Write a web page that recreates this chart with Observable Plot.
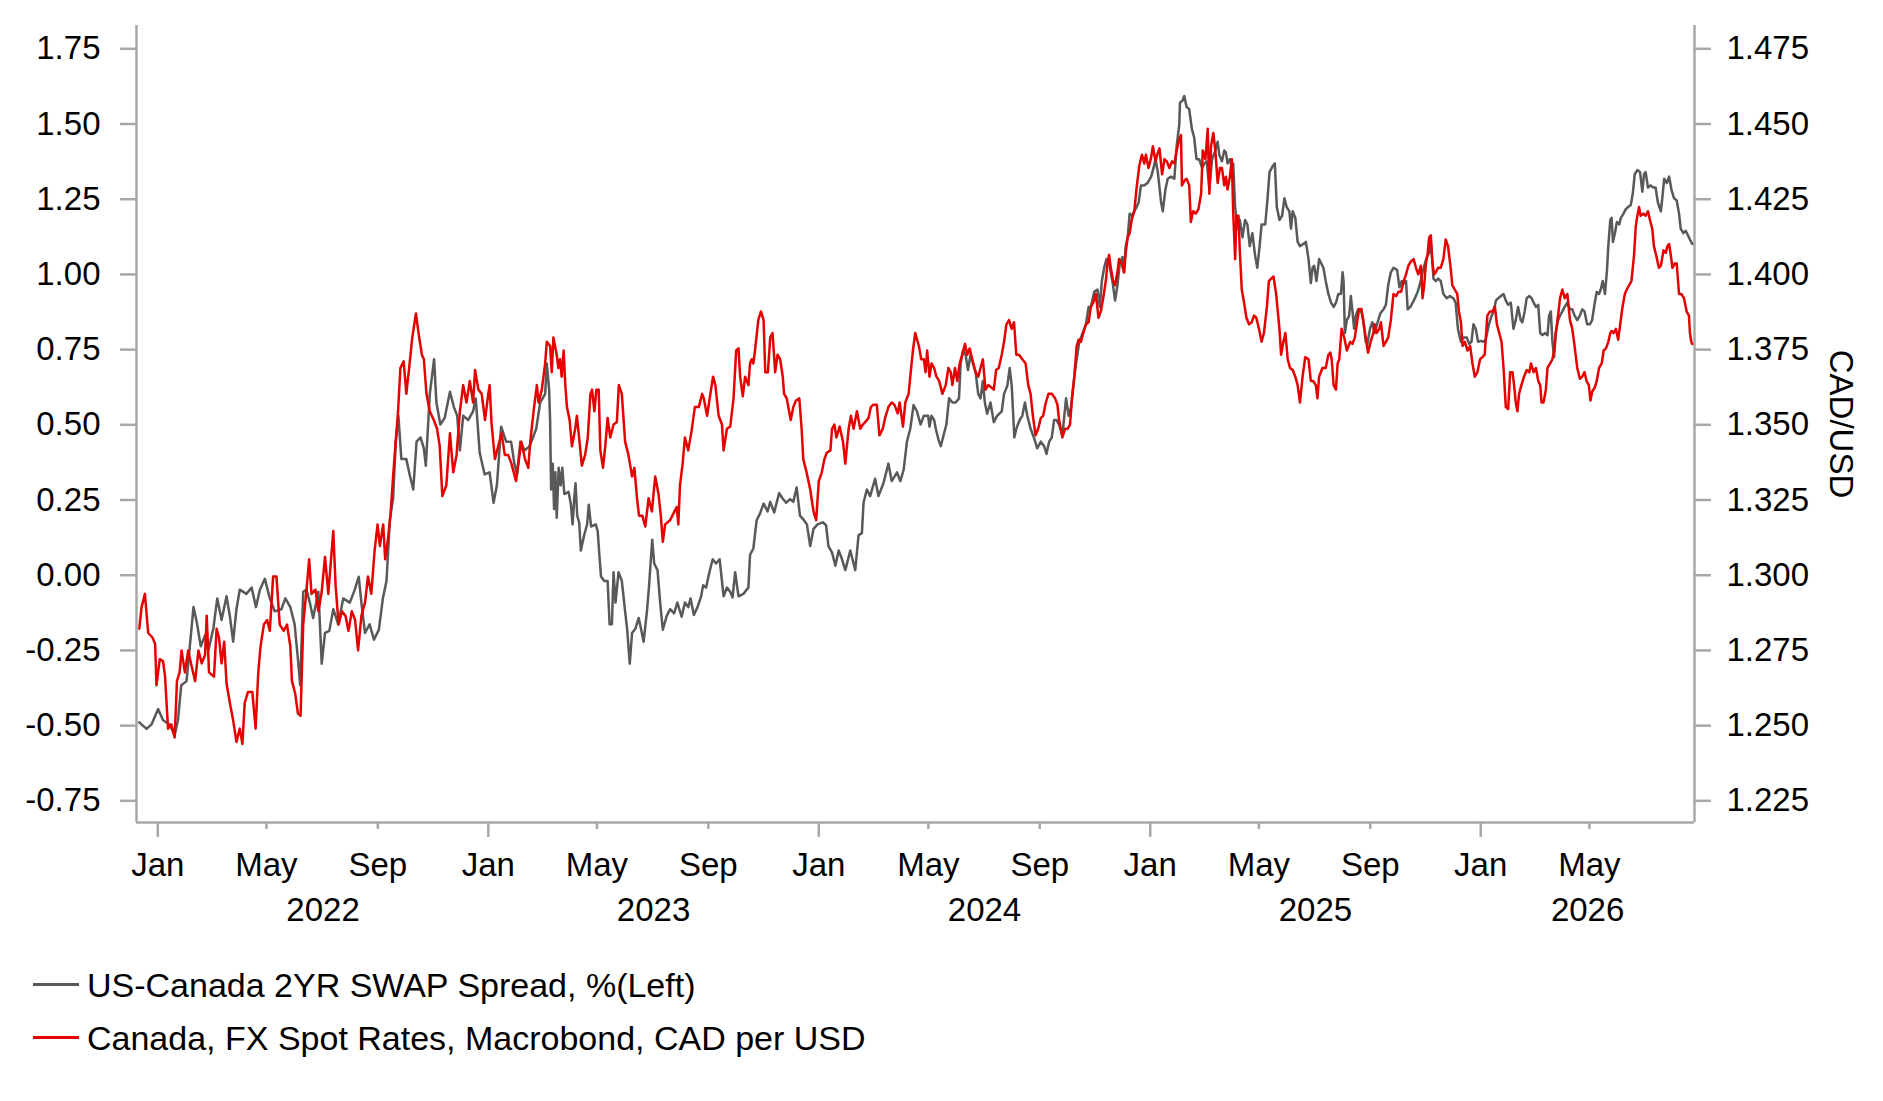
<!DOCTYPE html>
<html><head><meta charset="utf-8">
<script src="https://cdn.jsdelivr.net/npm/d3@7"></script>
<script src="https://cdn.jsdelivr.net/npm/@observablehq/plot@0.6"></script>
<style>
html,body{margin:0;padding:0;background:#fff;}
#wrap{position:relative;width:1883px;height:1101px;font-family:"Liberation Sans",Arial,sans-serif;}
#chart svg{display:block}
.row{position:absolute;left:0;width:1200px;height:40px;font-size:34px;line-height:34px;color:#000;white-space:nowrap;}
.sw{position:absolute;left:33px;width:46px;height:3px;top:14.5px}
.lbl{position:absolute;left:87px;top:0}
</style></head><body>
<div id="wrap"><div id="chart"></div>
<div class="row" style="top:968px"><span class="sw" style="background:#595959"></span><span class="lbl">US-Canada 2YR SWAP Spread, %(Left)</span></div>
<div class="row" style="top:1021px"><span class="sw" style="background:#e60000"></span><span class="lbl">Canada, FX Spot Rates, Macrobond, CAD per USD</span></div>
</div>
<script>
// [decimal year, US-Canada 2Y swap spread %]
const spread = [
[2021.944,-0.489],[2021.966,-0.511],[2021.981,-0.496],[2022.001,-0.445],[2022.016,-0.482],[2022.036,-0.496],[2022.051,-0.532],[2022.061,-0.482],[2022.071,-0.366],[2022.087,-0.352],
[2022.097,-0.236],[2022.108,-0.106],[2022.118,-0.156],[2022.130,-0.236],[2022.143,-0.200],[2022.153,-0.250],[2022.168,-0.178],[2022.180,-0.077],[2022.193,-0.149],[2022.208,-0.070],
[2022.218,-0.135],[2022.228,-0.221],[2022.238,-0.113],[2022.248,-0.048],[2022.268,-0.062],[2022.284,-0.041],[2022.297,-0.106],[2022.309,-0.048],[2022.324,-0.012],[2022.339,-0.077],
[2022.354,-0.120],[2022.374,-0.113],[2022.386,-0.077],[2022.401,-0.106],[2022.414,-0.163],[2022.424,-0.279],[2022.431,-0.366],[2022.440,-0.055],[2022.450,-0.048],[2022.460,-0.091],
[2022.470,-0.142],[2022.486,-0.055],[2022.496,-0.294],[2022.506,-0.192],[2022.519,-0.185],[2022.531,-0.113],[2022.546,-0.163],[2022.561,-0.077],[2022.581,-0.091],[2022.596,-0.048],
[2022.608,-0.005],[2022.616,-0.091],[2022.627,-0.192],[2022.641,-0.163],[2022.654,-0.214],[2022.669,-0.181],[2022.681,-0.077],[2022.692,-0.019],[2022.702,0.183],[2022.712,0.256],
[2022.720,0.444],[2022.728,0.530],[2022.737,0.386],[2022.752,0.386],[2022.762,0.335],[2022.773,0.285],[2022.783,0.444],[2022.795,0.458],[2022.805,0.422],[2022.811,0.364],
[2022.823,0.603],[2022.836,0.718],[2022.843,0.574],[2022.855,0.501],[2022.868,0.523],[2022.884,0.610],[2022.896,0.559],[2022.906,0.530],[2022.914,0.415],[2022.924,0.530],
[2022.939,0.516],[2022.954,0.545],[2022.962,0.588],[2022.974,0.407],[2022.989,0.335],[2023.004,0.342],[2023.016,0.241],[2023.026,0.299],[2023.039,0.494],[2023.054,0.444],
[2023.069,0.444],[2023.079,0.371],[2023.087,0.335],[2023.097,0.444],[2023.110,0.415],[2023.125,0.429],
[2023.145,0.487],[2023.157,0.574],[2023.172,0.603],[2023.177,0.704],[2023.184,0.617],[2023.187,0.516],[2023.190,0.285],[2023.195,0.371],[2023.199,0.220],[2023.203,0.342],
[2023.207,0.191],[2023.213,0.357],[2023.219,0.299],[2023.224,0.357],[2023.230,0.270],[2023.243,0.277],[2023.250,0.234],[2023.255,0.169],[2023.260,0.256],[2023.264,0.306],
[2023.269,0.198],[2023.275,0.176],[2023.280,0.082],[2023.290,0.133],[2023.299,0.169],[2023.304,0.234],[2023.311,0.162],[2023.325,0.169],[2023.331,0.147],[2023.336,0.068],
[2023.341,-0.004],[2023.351,-0.019],[2023.361,-0.019],[2023.367,-0.163],[2023.374,-0.163],[2023.379,0.010],[2023.385,-0.091],[2023.394,0.010],[2023.404,-0.019],[2023.414,-0.120],
[2023.420,-0.178],[2023.428,-0.294],[2023.435,-0.192],[2023.445,-0.178],[2023.455,-0.142],[2023.462,-0.178],[2023.470,-0.221],[2023.480,-0.120],[2023.486,-0.041],[2023.496,0.118],
[2023.502,0.039],[2023.512,0.017],[2023.520,-0.091],[2023.528,-0.181],[2023.540,-0.135],[2023.550,-0.113],[2023.562,-0.127],[2023.572,-0.091],[2023.585,-0.138],[2023.595,-0.091],
[2023.605,-0.106],[2023.612,-0.077],[2023.622,-0.132],[2023.633,-0.106],[2023.644,-0.070],[2023.650,-0.033],[2023.659,-0.041],[2023.669,0.010],[2023.679,0.053],[2023.689,0.039],
[2023.700,0.053],[2023.712,-0.070],[2023.722,-0.041],[2023.732,-0.055],[2023.739,-0.074],[2023.747,0.010],[2023.757,-0.070],[2023.772,-0.062],[2023.787,-0.041],[2023.792,0.068],
[2023.802,0.089],[2023.812,0.183],[2023.822,0.205],[2023.833,0.238],[2023.845,0.212],[2023.853,0.244],[2023.865,0.209],[2023.880,0.273],[2023.890,0.256],[2023.901,0.241],
[2023.913,0.253],[2023.923,0.244],[2023.933,0.292],[2023.943,0.198],[2023.955,0.183],[2023.964,0.169],[2023.974,0.097],[2023.984,0.154],[2023.996,0.169],[2024.012,0.176],
[2024.022,0.166],[2024.029,0.097],[2024.040,0.075],[2024.050,0.032],[2024.060,0.082],[2024.070,0.053],[2024.080,0.017],[2024.095,0.082],[2024.110,0.017],[2024.120,0.133],
[2024.130,0.140],[2024.135,0.241],[2024.145,0.285],[2024.155,0.263],[2024.170,0.321],[2024.180,0.263],[2024.195,0.306],[2024.210,0.371],[2024.220,0.313],[2024.236,0.342],
[2024.246,0.313],[2024.256,0.350],[2024.266,0.444],[2024.276,0.487],[2024.286,0.566],[2024.296,0.545],[2024.307,0.501],[2024.317,0.530],
[2024.330,0.530],[2024.334,0.494],[2024.340,0.530],[2024.348,0.516],[2024.353,0.487],[2024.361,0.451],[2024.368,0.429],[2024.378,0.472],[2024.385,0.501],[2024.393,0.588],
[2024.403,0.574],[2024.413,0.574],[2024.423,0.588],[2024.428,0.704],[2024.435,0.747],[2024.443,0.733],[2024.450,0.682],[2024.458,0.733],[2024.465,0.704],[2024.473,0.675],
[2024.481,0.603],[2024.488,0.588],[2024.495,0.646],[2024.501,0.574],[2024.508,0.537],[2024.518,0.574],[2024.528,0.509],[2024.538,0.530],[2024.552,0.545],[2024.559,0.603],
[2024.569,0.631],[2024.576,0.689],[2024.582,0.631],[2024.586,0.545],[2024.590,0.458],[2024.596,0.487],[2024.606,0.516],[2024.614,0.530],[2024.622,0.574],[2024.629,0.530],
[2024.639,0.487],[2024.649,0.458],[2024.659,0.422],[2024.670,0.444],[2024.680,0.429],[2024.687,0.403],[2024.695,0.444],[2024.703,0.458],[2024.710,0.516],[2024.717,0.516],
[2024.725,0.501],[2024.735,0.465],[2024.746,0.588],[2024.754,0.530],[2024.761,0.559],[2024.771,0.660],[2024.778,0.718],[2024.786,0.776],[2024.796,0.805],[2024.806,0.834],
[2024.814,0.892],[2024.821,0.892],[2024.831,0.942],[2024.841,0.950],[2024.848,0.892],[2024.854,0.978],[2024.861,1.022],[2024.868,1.051],[2024.876,1.036],[2024.886,0.978],
[2024.894,0.913],[2024.901,0.964],[2024.908,1.036],[2024.916,1.058],[2024.921,1.007],[2024.926,1.094],[2024.932,1.123],[2024.938,1.202],[2024.944,1.195],[2024.952,1.210],
[2024.959,1.224],[2024.965,1.239],[2024.972,1.296],[2024.982,1.296],[2024.992,1.304],[2025.003,1.325],[2025.010,1.354],[2025.016,1.383],[2025.023,1.340],[2025.033,1.239],
[2025.038,1.210],[2025.046,1.282],[2025.053,1.318],[2025.063,1.325],[2025.073,1.318],[2025.080,1.427],[2025.088,1.499],[2025.090,1.571],[2025.098,1.578],[2025.103,1.593],
[2025.110,1.557],[2025.118,1.549],[2025.126,1.484],[2025.133,1.455],[2025.140,1.383],[2025.148,1.383],[2025.157,1.354],[2025.164,1.369],[2025.171,1.376],[2025.179,1.282],
[2025.187,1.383],[2025.197,1.412],[2025.204,1.441],[2025.209,1.398],[2025.217,1.376],[2025.224,1.412],[2025.229,1.405],[2025.234,1.369],[2025.241,1.383],[2025.247,1.354],
[2025.251,1.369],[2025.257,1.224],[2025.264,1.152],[2025.271,1.181],[2025.279,1.123],[2025.287,1.181],[2025.294,1.166],[2025.301,1.094],[2025.309,1.137],[2025.317,1.065],
[2025.324,1.022],[2025.331,1.094],[2025.337,1.166],[2025.348,1.166],[2025.355,1.253],[2025.361,1.340],[2025.371,1.361],[2025.377,1.369],[2025.383,1.224],[2025.391,1.181],
[2025.399,1.195],[2025.406,1.253],[2025.413,1.224],[2025.421,1.210],[2025.426,1.152],[2025.431,1.210],[2025.439,1.188],[2025.446,1.108],[2025.453,1.094],[2025.463,1.101],
[2025.471,1.108],[2025.479,1.051],[2025.486,0.971],[2025.491,1.022],[2025.496,1.029],[2025.503,0.978],[2025.511,1.051],
[2025.524,1.022],[2025.531,0.978],[2025.539,0.935],[2025.547,0.906],[2025.555,0.892],[2025.562,0.906],[2025.569,0.935],[2025.577,0.935],[2025.582,1.007],[2025.585,0.978],
[2025.589,0.805],[2025.595,0.848],[2025.602,0.863],[2025.607,0.928],[2025.612,0.877],[2025.617,0.819],[2025.622,0.863],[2025.629,0.884],[2025.637,0.884],[2025.645,0.848],
[2025.652,0.776],[2025.657,0.769],[2025.665,0.819],[2025.672,0.841],[2025.679,0.805],[2025.688,0.841],[2025.696,0.870],[2025.706,0.884],[2025.713,0.899],[2025.720,0.964],
[2025.728,1.007],[2025.736,1.022],[2025.747,1.015],[2025.754,0.957],[2025.761,0.978],[2025.769,0.971],[2025.774,0.978],[2025.779,0.884],[2025.787,0.892],[2025.794,0.906],
[2025.801,0.921],[2025.809,0.942],[2025.817,0.971],[2025.824,1.007],[2025.831,1.036],[2025.837,1.058],[2025.844,1.072],[2025.849,1.108],[2025.854,1.036],[2025.857,0.986],
[2025.864,0.978],[2025.871,0.986],[2025.879,0.978],[2025.887,0.935],[2025.897,0.921],[2025.907,0.928],[2025.917,0.921],[2025.924,0.906],[2025.931,0.819],[2025.940,0.776],
[2025.948,0.790],[2025.958,0.790],[2025.965,0.769],[2025.972,0.776],[2025.978,0.834],[2025.985,0.819],[2025.992,0.776],[2026.000,0.779],[2026.008,0.776],[2026.015,0.783],
[2026.025,0.834],[2026.033,0.863],[2026.039,0.877],[2026.046,0.913],[2026.053,0.921],[2026.061,0.928],[2026.069,0.935],[2026.076,0.913],[2026.083,0.899],[2026.091,0.906],
[2026.099,0.819],[2026.106,0.848],[2026.113,0.892],[2026.121,0.848],[2026.126,0.841],[2026.133,0.877],[2026.139,0.921],[2026.147,0.928],[2026.154,0.921],[2026.160,0.906],
[2026.167,0.892],[2026.174,0.899],[2026.180,0.805],[2026.187,0.798],[2026.194,0.805],[2026.202,0.798],[2026.207,0.863],[2026.212,0.877],[2026.217,0.776],[2026.222,0.725],
[2026.227,0.805],[2026.234,0.848],[2026.240,0.863],[2026.247,0.877],[2026.254,0.892],[2026.262,0.906],[2026.270,0.884],[2026.277,0.884],[2026.284,0.863],[2026.292,0.848],
[2026.300,0.863],[2026.307,0.884],[2026.314,0.877],[2026.322,0.834],[2026.330,0.834],[2026.337,0.848],[2026.345,0.906],[2026.351,0.942],[2026.358,0.935],[2026.363,0.950],
[2026.369,0.978],[2026.376,0.935],[2026.382,1.015],[2026.386,1.094],[2026.392,1.181],[2026.396,1.188],[2026.400,1.108],[2026.406,1.137],[2026.412,1.174],[2026.419,1.166],
[2026.424,1.188],[2026.432,1.202],[2026.439,1.217],[2026.446,1.224],[2026.454,1.231],[2026.460,1.268],[2026.466,1.333],[2026.474,1.347],[2026.482,1.340],[2026.489,1.275],
[2026.494,1.333],[2026.499,1.340],[2026.506,1.289],[2026.514,1.296],[2026.522,1.289],[2026.529,1.289],[2026.536,1.239],[2026.545,1.210],[2026.550,1.260],[2026.555,1.318],
[2026.563,1.304],[2026.570,1.325],[2026.577,1.282],[2026.585,1.253],[2026.593,1.246],[2026.600,1.202],[2026.605,1.152],[2026.613,1.137],[2026.620,1.145],[2026.627,1.130],
[2026.633,1.116],[2026.640,1.101]
];

// [decimal year, CAD per USD]
const fx = [
[2021.944,1.2822],[2021.951,1.2894],[2021.961,1.2938],[2021.971,1.2808],[2021.984,1.2793],[2021.992,1.2771],[2021.996,1.2634],[2022.006,1.2721],[2022.016,1.2714],[2022.022,1.2663],
[2022.031,1.2490],[2022.041,1.2504],[2022.051,1.2461],[2022.058,1.2648],[2022.066,1.2677],[2022.072,1.2750],[2022.082,1.2677],[2022.092,1.2750],[2022.102,1.2699],[2022.113,1.2648],
[2022.123,1.2750],[2022.133,1.2707],[2022.143,1.2735],[2022.148,1.2865],[2022.155,1.2677],[2022.170,1.2663],[2022.178,1.2822],[2022.185,1.2793],[2022.193,1.2707],[2022.201,1.2779],
[2022.208,1.2641],[2022.218,1.2576],[2022.228,1.2518],[2022.238,1.2446],[2022.248,1.2490],[2022.256,1.2439],[2022.263,1.2576],[2022.273,1.2612],[2022.286,1.2612],[2022.296,1.2490],
[2022.304,1.2677],[2022.311,1.2764],[2022.321,1.2836],[2022.331,1.2851],[2022.339,1.2815],[2022.349,1.2996],[2022.359,1.2996],[2022.369,1.2836],[2022.381,1.2815],[2022.391,1.2836],
[2022.401,1.2764],[2022.406,1.2648],[2022.416,1.2605],[2022.424,1.2540],[2022.432,1.2533],[2022.440,1.2836],[2022.450,1.2952],[2022.458,1.3053],[2022.465,1.2938],[2022.477,1.2952],
[2022.486,1.2880],[2022.496,1.2945],[2022.506,1.3061],[2022.516,1.2938],[2022.531,1.3147],[2022.538,1.2967],[2022.547,1.2836],[2022.557,1.2880],[2022.568,1.2865],[2022.577,1.2815],
[2022.587,1.2880],[2022.597,1.2851],[2022.606,1.2750],[2022.616,1.2865],[2022.627,1.2909],[2022.636,1.2996],[2022.646,1.2938],[2022.656,1.3082],[2022.665,1.3169],[2022.672,1.3097],
[2022.682,1.3169],[2022.688,1.3053],[2022.697,1.3126],[2022.704,1.3198],[2022.712,1.3328],[2022.720,1.3444],[2022.727,1.3545],[2022.734,1.3689],[2022.744,1.3711],[2022.752,1.3603],
[2022.762,1.3704],[2022.770,1.3790],[2022.781,1.3870],[2022.789,1.3805],[2022.799,1.3733],[2022.805,1.3718],[2022.813,1.3603],[2022.823,1.3545],[2022.835,1.3516],[2022.845,1.3487],
[2022.853,1.3429],[2022.861,1.3263],[2022.873,1.3299],[2022.884,1.3472],[2022.894,1.3342],[2022.904,1.3400],[2022.914,1.3545],[2022.924,1.3632],[2022.934,1.3574],[2022.944,1.3646],
[2022.954,1.3574],[2022.960,1.3682],[2022.970,1.3617],[2022.980,1.3603],[2022.990,1.3516],[2023.000,1.3603],[2023.004,1.3632],[2023.010,1.3502],[2023.020,1.3386],[2023.030,1.3429],
[2023.040,1.3472],[2023.050,1.3400],[2023.060,1.3400],[2023.070,1.3371],[2023.084,1.3313],[2023.100,1.3444],[2023.111,1.3386],[2023.121,1.3357],
[2023.127,1.3444],[2023.137,1.3545],[2023.147,1.3632],[2023.152,1.3574],[2023.162,1.3617],[2023.172,1.3704],[2023.177,1.3776],[2023.187,1.3762],[2023.192,1.3675],[2023.197,1.3790],
[2023.207,1.3733],[2023.212,1.3689],[2023.217,1.3718],[2023.222,1.3660],[2023.228,1.3747],[2023.233,1.3632],[2023.238,1.3559],[2023.246,1.3516],[2023.253,1.3429],[2023.263,1.3487],
[2023.268,1.3530],[2023.276,1.3444],[2023.283,1.3364],[2023.293,1.3400],[2023.301,1.3458],[2023.309,1.3603],[2023.314,1.3617],[2023.321,1.3545],[2023.327,1.3617],[2023.334,1.3617],
[2023.339,1.3415],[2023.347,1.3357],[2023.354,1.3429],[2023.361,1.3523],[2023.369,1.3458],[2023.379,1.3501],[2023.389,1.3509],[2023.395,1.3632],[2023.404,1.3603],[2023.414,1.3444],
[2023.424,1.3400],[2023.435,1.3328],[2023.442,1.3357],[2023.450,1.3256],[2023.456,1.3198],[2023.466,1.3198],[2023.475,1.3162],[2023.485,1.3256],[2023.495,1.3212],[2023.505,1.3328],
[2023.515,1.3270],[2023.522,1.3198],[2023.528,1.3111],[2023.535,1.3169],[2023.550,1.3183],[2023.560,1.3205],[2023.570,1.3227],[2023.575,1.3169],[2023.580,1.3299],[2023.588,1.3371],
[2023.595,1.3458],[2023.605,1.3415],[2023.615,1.3480],[2023.625,1.3559],[2023.637,1.3559],[2023.647,1.3603],[2023.652,1.3588],[2023.662,1.3530],[2023.672,1.3603],[2023.680,1.3660],
[2023.687,1.3632],[2023.697,1.3530],[2023.707,1.3501],[2023.712,1.3415],[2023.722,1.3487],[2023.732,1.3494],[2023.742,1.3588],[2023.750,1.3747],[2023.757,1.3754],[2023.762,1.3660],
[2023.770,1.3595],[2023.777,1.3660],[2023.787,1.3632],[2023.792,1.3704],[2023.797,1.3718],[2023.802,1.3704],[2023.807,1.3747],[2023.817,1.3848],[2023.825,1.3877],[2023.833,1.3848],
[2023.838,1.3675],[2023.846,1.3675],[2023.853,1.3790],[2023.860,1.3805],[2023.868,1.3675],[2023.875,1.3733],[2023.883,1.3718],[2023.891,1.3660],[2023.895,1.3603],[2023.903,1.3588],
[2023.915,1.3516],[2023.923,1.3559],[2023.931,1.3581],[2023.941,1.3588],[2023.948,1.3487],[2023.953,1.3386],[2023.963,1.3342],[2023.974,1.3285],[2023.984,1.3212],[2023.992,1.3183],
[2024.000,1.3313],[2024.009,1.3342],[2024.017,1.3386],[2024.024,1.3407],[2024.035,1.3415],[2024.040,1.3487],[2024.047,1.3501],[2024.053,1.3458],[2024.063,1.3494],[2024.073,1.3444],
[2024.080,1.3371],[2024.090,1.3487],[2024.097,1.3530],[2024.105,1.3487],[2024.115,1.3545],[2024.125,1.3487],[2024.133,1.3501],[2024.140,1.3509],[2024.150,1.3523],[2024.157,1.3559],
[2024.165,1.3567],[2024.175,1.3567],[2024.183,1.3465],[2024.193,1.3487],[2024.200,1.3523],[2024.210,1.3559],[2024.220,1.3574],[2024.228,1.3567],[2024.238,1.3538],[2024.244,1.3574],
[2024.254,1.3494],[2024.261,1.3574],[2024.271,1.3603],[2024.276,1.3660],[2024.284,1.3747],[2024.291,1.3805],[2024.302,1.3762],[2024.309,1.3718],[2024.317,1.3718],
[2024.322,1.3675],[2024.327,1.3747],[2024.334,1.3660],[2024.340,1.3704],[2024.348,1.3689],[2024.355,1.3660],[2024.363,1.3646],[2024.373,1.3603],[2024.383,1.3632],[2024.391,1.3689],
[2024.398,1.3675],[2024.403,1.3632],[2024.411,1.3689],[2024.418,1.3646],[2024.425,1.3704],[2024.433,1.3733],[2024.441,1.3769],[2024.448,1.3733],[2024.455,1.3754],[2024.463,1.3718],
[2024.473,1.3675],[2024.481,1.3660],[2024.488,1.3689],[2024.495,1.3718],[2024.503,1.3617],[2024.511,1.3632],[2024.521,1.3624],[2024.528,1.3617],[2024.535,1.3682],[2024.543,1.3689],
[2024.552,1.3733],[2024.559,1.3776],[2024.566,1.3834],[2024.574,1.3848],[2024.582,1.3819],[2024.589,1.3841],[2024.596,1.3733],[2024.604,1.3733],[2024.614,1.3718],[2024.624,1.3704],
[2024.632,1.3632],[2024.639,1.3603],[2024.646,1.3530],[2024.654,1.3465],[2024.662,1.3487],[2024.670,1.3523],[2024.677,1.3530],[2024.685,1.3574],[2024.693,1.3603],[2024.703,1.3603],
[2024.713,1.3588],[2024.720,1.3567],[2024.725,1.3516],[2024.735,1.3458],[2024.743,1.3487],[2024.751,1.3487],[2024.758,1.3501],[2024.764,1.3588],[2024.771,1.3660],[2024.778,1.3762],
[2024.784,1.3783],[2024.791,1.3776],[2024.798,1.3805],[2024.806,1.3834],[2024.814,1.3841],[2024.821,1.3892],[2024.828,1.3906],[2024.836,1.3935],[2024.844,1.3856],[2024.851,1.3877],
[2024.858,1.3921],[2024.866,1.3978],[2024.871,1.4036],[2024.876,1.4065],[2024.881,1.4022],[2024.888,1.3978],[2024.894,1.3964],[2024.901,1.4007],[2024.906,1.4051],[2024.914,1.4036],
[2024.921,1.4007],[2024.926,1.4072],[2024.932,1.4123],[2024.938,1.4137],[2024.944,1.4181],[2024.952,1.4210],[2024.959,1.4289],[2024.967,1.4361],[2024.975,1.4398],[2024.982,1.4369],
[2024.987,1.4398],[2024.995,1.4354],[2025.003,1.4390],[2025.008,1.4426],[2025.016,1.4376],[2025.023,1.4405],[2025.028,1.4419],[2025.036,1.4333],[2025.043,1.4383],[2025.050,1.4376],
[2025.058,1.4354],[2025.066,1.4376],[2025.073,1.4369],[2025.080,1.4412],[2025.086,1.4441],[2025.093,1.4463],[2025.096,1.4296],[2025.103,1.4311],[2025.110,1.4318],[2025.118,1.4296],
[2025.123,1.4174],[2025.130,1.4210],[2025.138,1.4202],[2025.146,1.4217],[2025.154,1.4268],[2025.159,1.4412],[2025.167,1.4383],[2025.174,1.4484],[2025.179,1.4268],[2025.184,1.4426],
[2025.191,1.4470],[2025.197,1.4412],[2025.204,1.4304],[2025.211,1.4354],[2025.217,1.4354],[2025.224,1.4296],[2025.229,1.4325],[2025.234,1.4282],[2025.241,1.4325],[2025.247,1.4383],
[2025.251,1.4210],[2025.257,1.4051],[2025.261,1.4195],[2025.267,1.4195],[2025.271,1.4080],[2025.277,1.3950],[2025.284,1.3906],[2025.291,1.3856],[2025.299,1.3834],[2025.307,1.3841],
[2025.314,1.3863],[2025.321,1.3856],[2025.329,1.3819],[2025.337,1.3776],[2025.344,1.3805],[2025.353,1.3892],[2025.359,1.3978],[2025.366,1.3986],[2025.373,1.3993],[2025.381,1.3935],
[2025.386,1.3877],[2025.391,1.3819],[2025.396,1.3733],[2025.403,1.3776],[2025.409,1.3805],[2025.416,1.3718],[2025.423,1.3689],[2025.431,1.3682],[2025.439,1.3660],[2025.446,1.3632],
[2025.453,1.3574],[2025.461,1.3660],[2025.469,1.3725],[2025.479,1.3718],[2025.486,1.3646],[2025.493,1.3646],[2025.501,1.3632],[2025.506,1.3588],[2025.511,1.3660],
[2025.521,1.3689],[2025.531,1.3689],[2025.539,1.3733],[2025.545,1.3740],[2025.549,1.3718],[2025.555,1.3632],[2025.562,1.3617],[2025.567,1.3704],[2025.572,1.3718],[2025.579,1.3819],
[2025.587,1.3790],[2025.595,1.3747],[2025.605,1.3776],[2025.612,1.3769],[2025.619,1.3790],[2025.625,1.3834],[2025.632,1.3885],[2025.639,1.3885],[2025.645,1.3841],[2025.652,1.3790],
[2025.659,1.3740],[2025.667,1.3776],[2025.675,1.3805],[2025.679,1.3834],[2025.685,1.3805],[2025.693,1.3819],[2025.698,1.3841],[2025.706,1.3762],[2025.713,1.3776],[2025.720,1.3790],
[2025.728,1.3848],[2025.736,1.3935],[2025.744,1.3928],[2025.751,1.3942],[2025.759,1.3942],[2025.767,1.3978],[2025.774,1.4000],[2025.781,1.4029],[2025.789,1.4043],[2025.797,1.4051],
[2025.804,1.4022],[2025.811,1.4000],[2025.819,1.4029],[2025.824,1.3921],[2025.829,1.3964],[2025.834,1.4036],[2025.839,1.4065],[2025.844,1.4123],[2025.849,1.4130],[2025.854,1.4036],
[2025.859,1.4000],[2025.864,1.4007],[2025.871,1.4022],[2025.879,1.4022],[2025.887,1.4051],[2025.894,1.4116],[2025.901,1.4094],[2025.909,1.4022],[2025.914,1.3964],[2025.921,1.3950],
[2025.929,1.3935],[2025.934,1.3877],[2025.940,1.3841],[2025.945,1.3762],[2025.952,1.3776],[2025.960,1.3747],[2025.968,1.3762],[2025.975,1.3704],[2025.982,1.3660],[2025.990,1.3675],
[2025.998,1.3718],[2026.005,1.3725],[2026.012,1.3733],[2026.020,1.3863],[2026.028,1.3877],[2026.036,1.3877],[2026.043,1.3892],[2026.049,1.3834],[2026.056,1.3805],[2026.063,1.3776],
[2026.069,1.3689],[2026.076,1.3559],[2026.083,1.3552],[2026.089,1.3675],[2026.096,1.3675],[2026.101,1.3632],[2026.106,1.3574],[2026.111,1.3545],[2026.116,1.3603],[2026.123,1.3632],
[2026.131,1.3660],[2026.139,1.3682],[2026.147,1.3675],[2026.152,1.3704],[2026.160,1.3675],[2026.167,1.3689],[2026.174,1.3646],[2026.180,1.3632],[2026.184,1.3574],[2026.190,1.3574],
[2026.197,1.3617],[2026.202,1.3689],[2026.210,1.3704],[2026.217,1.3718],[2026.222,1.3747],[2026.227,1.3805],[2026.234,1.3863],[2026.240,1.3921],[2026.247,1.3950],[2026.254,1.3921],
[2026.262,1.3935],[2026.270,1.3848],[2026.277,1.3819],[2026.284,1.3762],[2026.292,1.3689],[2026.300,1.3653],[2026.307,1.3660],[2026.314,1.3675],[2026.320,1.3646],[2026.327,1.3632],
[2026.332,1.3581],[2026.337,1.3610],[2026.345,1.3624],[2026.351,1.3646],[2026.358,1.3689],[2026.366,1.3704],[2026.372,1.3747],[2026.379,1.3754],[2026.386,1.3776],[2026.392,1.3805],
[2026.396,1.3812],[2026.402,1.3805],[2026.409,1.3819],[2026.416,1.3783],[2026.422,1.3834],[2026.429,1.3892],[2026.436,1.3935],[2026.442,1.3950],[2026.449,1.3964],[2026.456,1.3978],
[2026.464,1.4065],[2026.469,1.4159],[2026.474,1.4195],[2026.479,1.4224],[2026.484,1.4195],[2026.492,1.4202],[2026.499,1.4195],[2026.506,1.4210],[2026.512,1.4181],[2026.519,1.4152],
[2026.524,1.4094],[2026.532,1.4058],[2026.539,1.4022],[2026.545,1.4029],[2026.553,1.4080],[2026.560,1.4072],[2026.565,1.4094],[2026.570,1.4101],[2026.575,1.4065],[2026.580,1.4022],
[2026.587,1.4036],[2026.593,1.4036],[2026.600,1.3935],[2026.607,1.3935],[2026.615,1.3921],[2026.623,1.3877],[2026.630,1.3863],[2026.633,1.3805],[2026.637,1.3776],[2026.640,1.3769]
];

const leftTicks = [-0.75,-0.5,-0.25,0,0.25,0.5,0.75,1,1.25,1.5,1.75];
const rightTicks = [1.225,1.25,1.275,1.3,1.325,1.35,1.375,1.4,1.425,1.45,1.475];
const majorTickDates = ["2022-01-01","2023-01-01","2024-01-01","2025-01-01","2026-01-01"];
const minorTickDates = ["2022-05-01","2022-09-01","2023-05-01","2023-09-01","2024-05-01","2024-09-01","2025-05-01","2025-09-01","2026-05-01"];
const yearLabels = ["2022","2023","2024","2025","2026"];
const domainYears = [2021.9356, 2026.6468];

const gray = "#595959", red = "#e60000", axisGray = "#a8a8a8";
const toDate = t => { const y = Math.floor(t); const a = Date.UTC(y,0,1), b = Date.UTC(y+1,0,1); return new Date(a + (t - y) * (b - a)); };
const fxToLeft = v => (v - 1.3) * 10;
const leftToFx = v => 1.3 + v / 10;
const x0 = toDate(domainYears[0]), x1 = toDate(domainYears[1]);
const yMin = -0.822, yMax = 1.8275;
const major = majorTickDates.map(d => new Date(d + "T00:00:00Z"));
const minor = minorTickDates.map(d => new Date(d + "T00:00:00Z"));
const monthTicks = [...major, ...minor].sort((a, b) => a - b);
const fmtMonth = d3.utcFormat("%b");
const yearMid = s => { const y = +s; const a = Math.max(Date.UTC(y,0,1), +x0), b = Math.min(Date.UTC(y+1,0,1), +x1); return new Date((a + b) / 2); };

const chart = Plot.plot({
  width: 1883, height: 960,
  marginLeft: 136, marginRight: 189, marginTop: 25, marginBottom: 138,
  style: {fontFamily: "'Liberation Sans', Arial, sans-serif", fontSize: "33px", color: "#000", background: "#fff", overflow: "visible"},
  x: {type: "utc", domain: [x0, x1]},
  y: {domain: [yMin, yMax]},
  marks: [
    Plot.axisY({anchor: "left", ticks: leftTicks, tickSize: 16, tickPadding: 20, tickFormat: d => d.toFixed(2), stroke: axisGray, strokeWidth: 2.5, fill: "#000", label: null}),
    Plot.axisY({anchor: "right", ticks: rightTicks.map(fxToLeft), tickSize: 16, tickPadding: 16, tickFormat: d => leftToFx(d).toFixed(3), stroke: axisGray, strokeWidth: 2.5, fill: "#000", label: null}),
    Plot.axisX({ticks: major, tickSize: 15, tickFormat: () => "", stroke: axisGray, strokeWidth: 2.5, label: null}),
    Plot.axisX({ticks: minor, tickSize: 7, tickFormat: () => "", stroke: axisGray, strokeWidth: 2.5, label: null}),
    Plot.ruleX([x0], {stroke: axisGray, strokeWidth: 2.5}),
    Plot.ruleX([x1], {stroke: axisGray, strokeWidth: 2.5}),
    Plot.ruleY([yMin], {stroke: axisGray, strokeWidth: 2.5}),
    Plot.text(monthTicks, {x: d => d, text: d => fmtMonth(d), frameAnchor: "bottom", lineAnchor: "bottom", textAnchor: "middle", dy: 53, fill: "#000"}),
    Plot.text(yearLabels, {x: d => yearMid(d), text: d => d, frameAnchor: "bottom", lineAnchor: "bottom", textAnchor: "middle", dy: 98.5, fill: "#000"}),
    Plot.text(["CAD/USD"], {text: d => d, frameAnchor: "right", textAnchor: "middle", lineAnchor: "middle", rotate: 90, dx: 146, fill: "#000"}),
    Plot.line(spread, {x: d => toDate(d[0]), y: d => d[1], stroke: gray, strokeWidth: 2.5}),
    Plot.line(fx, {x: d => toDate(d[0]), y: d => fxToLeft(d[1]), stroke: red, strokeWidth: 2.5})
  ]
});
document.getElementById("chart").appendChild(chart);
</script>
</body></html>
